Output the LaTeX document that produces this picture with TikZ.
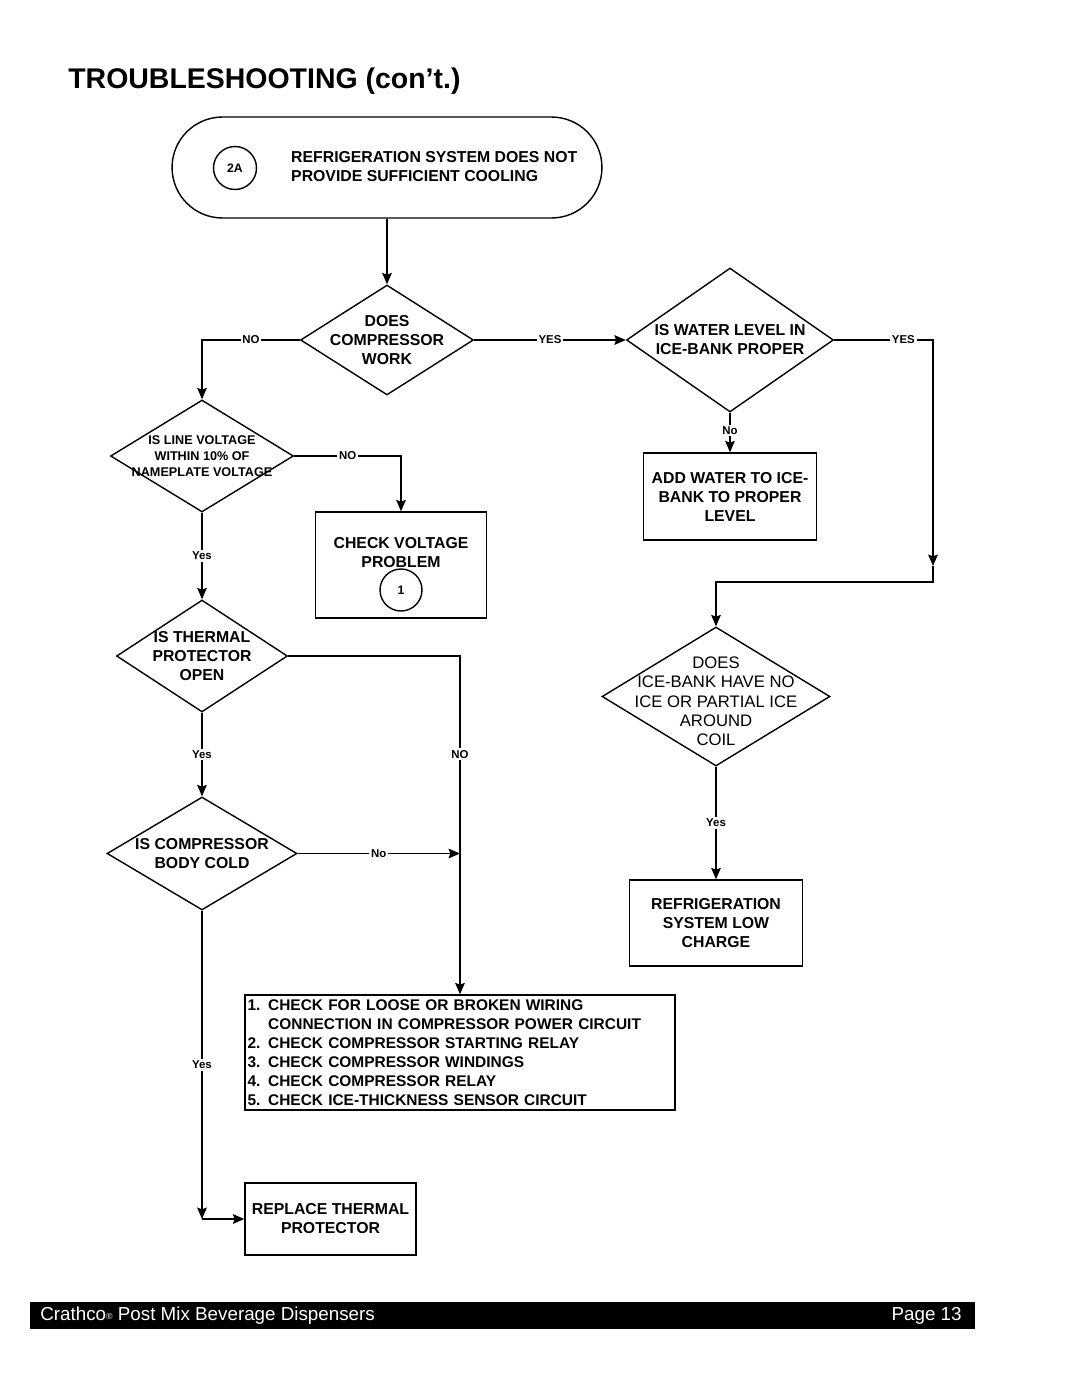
\documentclass[tikz,border=0pt]{standalone}
\usepackage{fontspec}
\setmainfont{Liberation Sans}
\usetikzlibrary{shapes.geometric, arrows.meta, positioning}

\begin{document}
\begin{tikzpicture}[
        x=0.02cm, y=-0.02cm,
        >={Stealth[length=6.5pt, width=5.5pt, inset=1pt]},
        txt/.style={font=\fontsize{9}{10.8}\selectfont\bfseries, align=center},
        box/.style={rectangle, draw, thick, inner sep=0pt},
        decision/.style={diamond, draw, thick, inner sep=0pt},
        yn/.style={fill=white, inner sep=1pt, font=\fontsize{6.5}{7}\selectfont\bfseries},
        tag/.style={circle, draw, thick, minimum size=0.86cm, inner sep=0pt, font=\fontsize{7}{8}\selectfont\bfseries}
    ]

    \useasboundingbox (0,0) rectangle (1080,1397);

    \node (title) [anchor=base west, inner sep=0pt, font=\fontsize{16.2}{20}\selectfont\bfseries] at (68,88) {TROUBLESHOOTING (con’t.)};

    % start
    \node (start) [box, rounded corners=1.01cm, minimum width=8.6cm, minimum height=2.02cm] at (387,167.5) {};
    \node (tag2a) [tag] at (235,168) {2A};
    \node (starttxt) [txt, align=left, anchor=west] at (285,167) {REFRIGERATION SYSTEM DOES NOT\\PROVIDE SUFFICIENT COOLING};

    % decisions
    \node (dcomp) [decision, minimum width=3.46cm, minimum height=2.2cm,
        label={[txt]center:{DOES\\COMPRESSOR\\WORK}}] at (387,340) {};
    \node (dwater) [decision, minimum width=4.14cm, minimum height=2.88cm,
        label={[txt]center:{IS WATER LEVEL IN\\ICE-BANK PROPER}}] at (730,340) {};
    \node (dline) [decision, minimum width=3.66cm, minimum height=2.24cm,
        label={[txt, font=\fontsize{7.2}{9}\selectfont\bfseries]center:{IS LINE VOLTAGE\\WITHIN 10\% OF\\NAMEPLATE VOLTAGE}}] at (202,456) {};
    \node (dtherm) [decision, minimum width=3.42cm, minimum height=2.24cm,
        label={[txt]center:{IS THERMAL\\PROTECTOR\\OPEN}}] at (202,656) {};
    \node (dcold) [decision, minimum width=3.8cm, minimum height=2.26cm,
        label={[txt]center:{IS COMPRESSOR\\BODY COLD}}] at (202,853.5) {};
    \node (dice) [decision, minimum width=4.56cm, minimum height=2.78cm,
        label={[txt, font=\fontsize{9.5}{11}\selectfont, yshift=-0.1cm]center:{DOES\\ICE-BANK HAVE NO\\ICE OR PARTIAL ICE\\AROUND\\COIL}}] at (716,696.5) {};

    % boxes
    \node (bwater) [box, txt, minimum width=3.46cm, minimum height=1.74cm] at (730,496.5) {ADD WATER TO ICE-\\BANK TO PROPER\\LEVEL};
    \node (bvolt) [box, minimum width=3.42cm, minimum height=2.12cm] at (401,565) {};
    \node (bvolttxt) [txt] at (401,552.5) {CHECK VOLTAGE\\PROBLEM};
    \node (tag1) [tag, minimum size=0.84cm] at (401,590) {1};
    \node (blow) [box, txt, minimum width=3.46cm, minimum height=1.72cm] at (716,923) {REFRIGERATION\\SYSTEM LOW\\CHARGE};
    \node (blist) [box, txt, font=\fontsize{8.8}{10.8}\selectfont\bfseries, align=left, text width=8.5cm, inner xsep=0.05cm,
        minimum height=2.3cm] at (460,1052.5)
        {1. CHECK FOR LOOSE OR BROKEN WIRING\\
         \phantom{1. }CONNECTION IN COMPRESSOR POWER CIRCUIT\\
         2. CHECK COMPRESSOR STARTING RELAY\\
         3. CHECK COMPRESSOR WINDINGS\\
         4. CHECK COMPRESSOR RELAY\\
         5. CHECK ICE-THICKNESS SENSOR CIRCUIT};
    \node (breplace) [box, txt, minimum width=3.42cm, minimum height=1.44cm] at (330.5,1219) {REPLACE THERMAL\\PROTECTOR};

    % corners
    \coordinate (c-no1) at (202,340);
    \coordinate (c-r1) at (933,340);
    \coordinate (c-r2) at (933,566);
    \coordinate (c-r3) at (933,582);
    \coordinate (c-r4) at (716,582);
    \coordinate (c-v1) at (401,456);
    \coordinate (c-t1) at (460,656);
    \coordinate (c-j1) at (460,853.5);
    \coordinate (c-b1) at (202,1219);

    \draw [->, thick] (start) -- (dcomp);
    \draw [->, thick] (dcomp.west) -- node[yn] (l-no1) {NO} (c-no1) -- (dline.north);
    \draw [->, thick] (dcomp.east) -- node[yn] (l-yes1) {YES} (dwater.west);
    \draw [->, thick] (dwater.east) -- node[yn, pos=0.7] (l-yes2) {YES} (c-r1) -- (c-r2);
    \draw [->, thick] (c-r2) -- (c-r3) -- (c-r4) -- (dice.north);
    \draw [->, thick] (dwater.south) -- node[yn, pos=0.45] (l-no2) {No} (bwater.north);
    \draw [->, thick] (dline.east) -- node[yn] (l-no3) {NO} (c-v1) -- (bvolt.north);
    \draw [->, thick] (dline.south) -- node[yn] (l-yes3) {Yes} (dtherm.north);
    \draw [->, thick] (dtherm.east) -- (c-t1) -- node[yn, pos=0.29] (l-no4) {NO} (blist.north);
    \draw [->, thick] (dtherm.south) -- node[yn] (l-yes4) {Yes} (dcold.north);
    \draw [->, thick] (dcold.east) -- node[yn] (l-no5) {No} (c-j1);
    \draw [->, thick] (dcold.south) -- node[yn] (l-yes5) {Yes} (c-b1);
    \draw [->, thick] (c-b1) -- (breplace.west);
    \draw [->, thick] (dice.south) -- node[yn] (l-yes6) {Yes} (blow.north);

    % footer
    \node (footer) [fill=black, minimum width=18.9cm, minimum height=0.54cm, inner sep=0pt] at (502.5,1315.5) {};
    \node (footl) [anchor=west, inner sep=0pt, text=white, font=\fontsize{10.7}{12}\selectfont] at (40,1315.5)
        {Crathco\raisebox{0.1ex}{\fontsize{5}{5}\selectfont ®} Post Mix Beverage Dispensers};
    \node (footr) [anchor=east, inner sep=0pt, text=white, font=\fontsize{10.7}{12}\selectfont] at (962,1315.5) {Page 13};

\end{tikzpicture}
\end{document}
